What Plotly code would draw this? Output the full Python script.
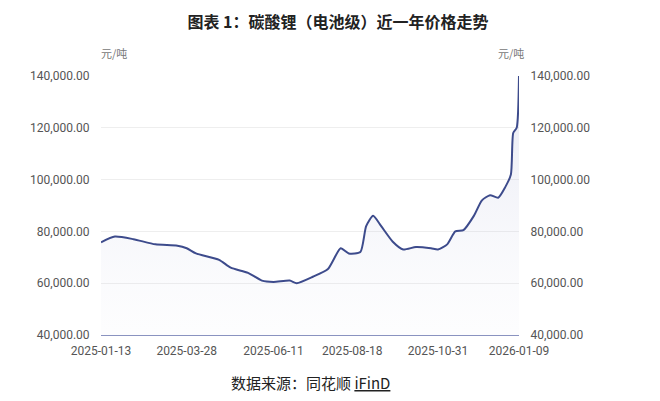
import plotly.graph_objects as go

dates = ["2025-01-13", "2025-01-25", "2025-02-10", "2025-03-01", "2025-03-20", "2025-03-28",
         "2025-04-05", "2025-04-25", "2025-05-05", "2025-05-20", "2025-06-01", "2025-06-11",
         "2025-06-25", "2025-07-01", "2025-07-15", "2025-07-28", "2025-08-08", "2025-08-15",
         "2025-08-25", "2025-08-30", "2025-09-05", "2025-09-12", "2025-09-22", "2025-10-01",
         "2025-10-12", "2025-10-25", "2025-10-31", "2025-11-08", "2025-11-15", "2025-11-22",
         "2025-12-01", "2025-12-08", "2025-12-15", "2025-12-22", "2025-12-28", "2026-01-02",
         "2026-01-04", "2026-01-07", "2026-01-09"]
prices = [75800, 78000, 77000, 75000, 74500, 73500,
          71500, 69000, 66000, 64000, 61000, 60500,
          61000, 60000, 62500, 65500, 73500, 71500,
          72000, 82000, 86000, 82000, 76000, 73000,
          74000, 73500, 73000, 75000, 80000, 80500,
          86000, 92000, 94000, 93000, 97000, 102000,
          118000, 120000, 140000]
tick_dates = ["2025-01-13", "2025-03-28", "2025-06-11", "2025-08-18", "2025-10-31", "2026-01-09"]
y_ticks = [40000, 60000, 80000, 100000, 120000, 140000]
y_labels = ["{:,.2f}".format(v) for v in y_ticks]

fig = go.Figure()
fig.add_trace(go.Scatter(
    x=dates, y=prices, mode="lines",
    line=dict(color="#3d4b8c", width=2, shape="spline", smoothing=0.6),
    fill="tozeroy",
    fillgradient=dict(type="vertical",
                      colorscale=[[0, "rgba(255,255,255,0)"], [1, "rgba(120,130,190,0.18)"]]),
    showlegend=False))
fig.add_trace(go.Scatter(x=dates, y=prices, yaxis="y2", mode="lines",
                         line=dict(width=0), hoverinfo="skip", showlegend=False))

gray = "#777777"
yax = dict(range=[40000, 140000], tickvals=y_ticks, ticktext=y_labels,
           showgrid=True, gridcolor="#eeeeee", zeroline=False, automargin=False,
           ticks="outside", ticklen=8, tickcolor="rgba(0,0,0,0)",
           tickfont=dict(size=12, color="#555555", family="Roboto"))
fig.update_layout(
    width=660, height=401, plot_bgcolor="white", paper_bgcolor="white",
    margin=dict(l=93, r=149, t=68, b=74),
    title=dict(text="<b>图表 1：碳酸锂（电池级）近一年价格走势</b>", x=0.5, xanchor="center",
               y=0.965, yanchor="middle",
               font=dict(size=16, color="#222222", family="Noto Sans CJK SC")),
    xaxis=dict(type="date", range=["2025-01-13", "2026-01-09"], tickvals=tick_dates,
               ticktext=tick_dates, showgrid=False, showline=True, linecolor="#8a93c0",
               ticks="outside", ticklen=5, tickcolor="rgba(0,0,0,0)", automargin=False,
               tickfont=dict(size=12, color="#555555", family="Roboto")),
    yaxis=yax,
    yaxis2=dict(yax, overlaying="y", side="right", showgrid=False),
    annotations=[
        dict(text="元/吨", x=0.03, y=1.09, xref="paper", yref="paper", xanchor="center",
             yanchor="middle", showarrow=False,
             font=dict(size=11, color=gray, family="Noto Sans CJK SC")),
        dict(text="元/吨", x=0.98, y=1.09, xref="paper", yref="paper", xanchor="center",
             yanchor="middle", showarrow=False,
             font=dict(size=11, color=gray, family="Noto Sans CJK SC")),
        dict(text="数据来源：同花顺 <u>iFinD</u>", x=0.5, y=-0.185, xref="paper", yref="paper",
             xanchor="center", yanchor="middle", showarrow=False,
             font=dict(size=15, color="#222222", family="Noto Sans CJK SC")),
    ],
)
fig.write_html("out.html")
